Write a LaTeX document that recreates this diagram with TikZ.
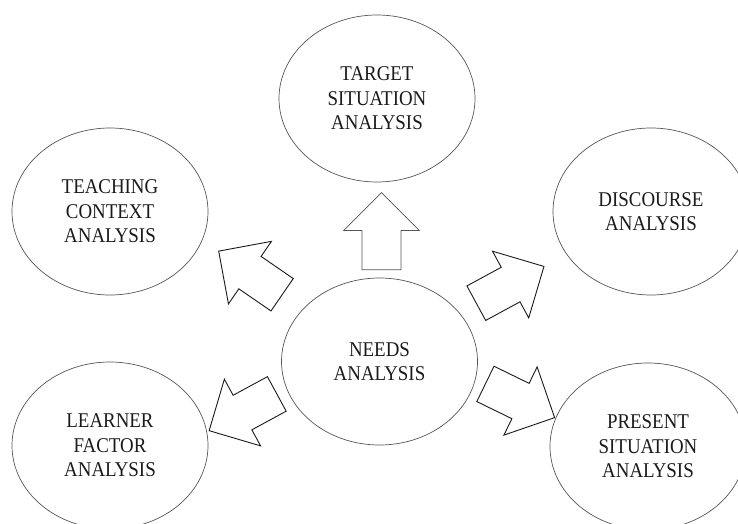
\documentclass[tikz,border=0pt]{standalone}
\usepackage{fontspec}
\setmainfont[FakeStretch=0.9]{Liberation Serif}
\usepackage{tikz}
\usetikzlibrary{shapes.geometric,shapes.arrows,positioning}
\definecolor{ink}{HTML}{1A1A1A}
\definecolor{rim}{HTML}{555555}

\begin{document}
\begin{tikzpicture}[x=1pt,y=-1pt,
  bubble/.style={draw=rim,line width=0.7pt,ellipse,inner sep=0pt,
        minimum width=196pt,minimum height=167pt,align=center,text=ink,
        font=\fontsize{21}{24.5}\selectfont},
  bigarrow/.style={draw=ink,line width=0.9pt,single arrow,anchor=tail,
        inner xsep=0pt,inner ysep=19.2pt,single arrow head extend=18.3pt,
        minimum width=75pt,minimum height=77pt}]
  \useasboundingbox (0,0) rectangle (738,524);
  % the six analyses
  \node[bubble] (needs)     at (379.5,361.5) {NEEDS\\ANALYSIS};
  \node[bubble] (target)    at (377,98.5)    {TARGET\\SITUATION\\ANALYSIS};
  \node[bubble] (teaching)  at (110,211.5)   {TEACHING\\CONTEXT\\ANALYSIS};
  \node[bubble] (discourse) at (651,211.5)   {DISCOURSE\\ANALYSIS};
  \node[bubble] (learner)   at (110,445.5)   {LEARNER\\FACTOR\\ANALYSIS};
  \node[bubble] (present)   at (648,446.5)   {PRESENT\\SITUATION\\ANALYSIS};
  % block arrows out of the centre
  \node[bigarrow,draw=rim,line width=0.7pt,rotate=90] (toTarget) at (381.5,270) {};
  \node[bigarrow,rotate=145.5] (toTeaching)  at (282.5,295) {};
  \node[bigarrow,rotate=28.5]  (toDiscourse) at (475.9,303.4) {};
  \node[bigarrow,rotate=208.5] (toLearner)   at (277.2,393.7) {};
  \node[bigarrow,rotate=-26]   (toPresent)   at (485,383.7) {};
\end{tikzpicture}
\end{document}
